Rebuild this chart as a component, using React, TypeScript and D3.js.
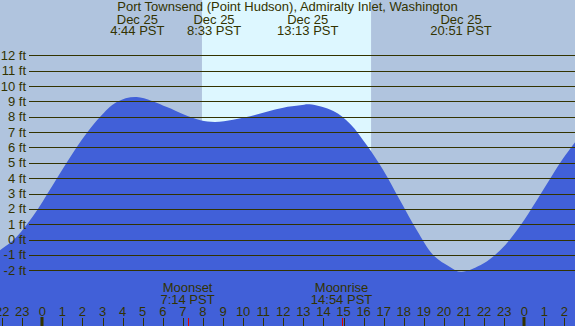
import React from 'react';
import * as d3 from 'd3';

// tide level (hours from midnight Dec 25, feet)
const tideHours = [-2.11, -1.41, -0.76, -0.21, 0.26, 0.73, 1.21, 1.7, 2.25, 2.87, 3.71, 4.7, 6.2, 7.02, 7.87, 8.6, 9.5, 10.35, 11.18, 12.0, 12.84, 13.3, 14.49, 15.32, 16.16, 16.98, 17.81, 18.65, 19.47, 20.3, 20.85, 21.96, 22.8, 23.38, 24.2, 25.03, 25.87, 26.53];
const tideFeet = [-0.7, 0, 1, 2, 3, 4, 5, 6, 7, 7.98, 8.96, 9.28, 8.63, 8.16, 7.77, 7.66, 7.81, 8.03, 8.33, 8.59, 8.74, 8.81, 8.37, 7.55, 6.14, 4.51, 2.56, 0.6, -1.02, -1.78, -2.1, -1.56, -0.7, 0.17, 1.69, 3.42, 5.16, 6.35];

const tideEventHours = [4.733, 8.55, 13.217, 20.85];
const tideEventDates = ['Dec 25', 'Dec 25', 'Dec 25', 'Dec 25'];
const tideEventTimes = ['4:44 PST', '8:33 PST', '13:13 PST', '20:51 PST'];

const moonEventHours = [7.233, 14.9];
const moonEventNames = ['Moonset', 'Moonrise'];
const moonEventTimes = ['7:14 PST', '14:54 PST'];

const sunrise = 7.95;
const sunset = 16.37;

const feetTicks = d3.range(-2, 13);
const hourTicks = d3.range(-2, 27);

const title = 'Port Townsend (Point Hudson), Admiralty Inlet, Washington';

const W = 575;
const H = 326;
const ink = '#333300';
const font = '"Liberation Sans", Arial, sans-serif';

export default function App() {
  const x = d3.scaleLinear().domain([0, 24]).range([42.3, 524.3]);
  const y = d3.scaleLinear().domain([-2, 12]).range([270.3, 55.3]);

  const pts = tideHours.map((h, i) => [h, tideFeet[i]] as [number, number]);
  const area = d3.area<[number, number]>()
    .x(d => x(d[0]))
    .y0(H)
    .y1(d => y(d[1]))
    .curve(d3.curveCatmullRom);

  const hourLabel = (h: number) => String(((h % 24) + 24) % 24);

  return (
    <div style={{ position: 'fixed', left: 0, top: 0 }}>
      <svg width={W} height={H} style={{ display: 'block' }} fontFamily={font} fontSize={13}>
        <rect x={0} y={0} width={W} height={H} fill="#b0c4de" />
        <rect x={x(sunrise)} y={0} width={x(sunset) - x(sunrise)} height={H} fill="#ddf7ff" />
        <path d={area(pts) || ''} fill="#4160d8" />

        {feetTicks.map(f => (
          <g key={f}>
            <line x1={29} x2={W} y1={Math.round(y(f)) + 0.5} y2={Math.round(y(f)) + 0.5} stroke={ink} strokeWidth={1} />
            <text x={26} y={y(f) + 4.5} textAnchor="end" fill={ink}>{`${f} ft`}</text>
          </g>
        ))}

        <text x={W / 2} y={11} textAnchor="middle" fill={ink}>{title}</text>
        {tideEventHours.map((h, i) => (
          <g key={h}>
            <text x={x(h)} y={24} textAnchor="middle" fill={ink}>{tideEventDates[i]}</text>
            <text x={x(h)} y={35} textAnchor="middle" fill={ink}>{tideEventTimes[i]}</text>
          </g>
        ))}

        {moonEventHours.map((h, i) => (
          <g key={h}>
            <text x={x(h)} y={292} textAnchor="middle" fill={ink}>{moonEventNames[i]}</text>
            <text x={x(h)} y={303.5} textAnchor="middle" fill={ink}>{moonEventTimes[i]}</text>
          </g>
        ))}

        {hourTicks.map(h => {
          const midnight = ((h % 24) + 24) % 24 === 0;
          const px = Math.round(x(h));
          return (
            <g key={h}>
              <text x={x(h)} y={316} textAnchor="middle" fill={ink}>{hourLabel(h)}</text>
              {midnight
                ? <rect x={px - 1.5} y={317} width={3} height={H - 317} fill={ink} />
                : <line x1={px + 0.5} x2={px + 0.5} y1={318} y2={H} stroke={ink} strokeWidth={1} />}
            </g>
          );
        })}
        {moonEventHours.map(h => (
          <line key={h} x1={Math.round(x(h)) + 0.5} x2={Math.round(x(h)) + 0.5} y1={318} y2={H} stroke="#e00000" strokeWidth={1} />
        ))}
      </svg>
    </div>
  );
}
